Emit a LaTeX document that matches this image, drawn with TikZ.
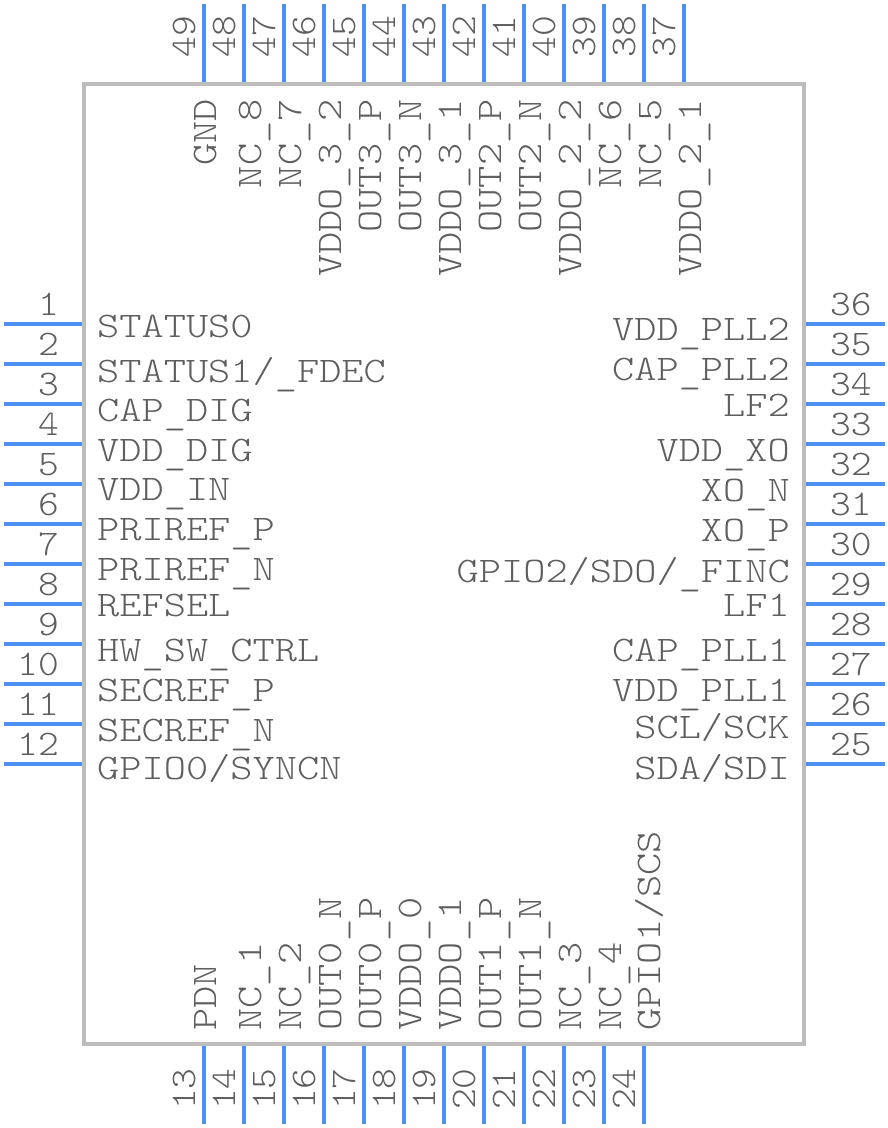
\documentclass[tikz,border=0pt]{standalone}
\usepackage{fontspec}
\newfontfamily\namefont[FakeStretch=1.175]{Latin Modern Mono Light}
\newfontfamily\numfont[FakeStretch=1.1]{Latin Modern Mono Light}
\newcommand{\lowbar}{\raisebox{-3.5pt}{\_}}
\definecolor{pinblue}{HTML}{4A90F5}
\definecolor{bodygray}{HTML}{BDBDBD}
\definecolor{textgray}{HTML}{5E5E5E}
\tikzset{
    pinline/.style={pinblue, line width=4pt},
    pinnum/.style={textgray, inner sep=0pt, font=\fontsize{36}{36}\numfont},
    pinname/.style={textgray, inner sep=0pt, font=\fontsize{36}{36}\namefont},
}
\begin{document}
\begin{tikzpicture}[x=1pt, y=-1pt]
    \useasboundingbox (0,0) rectangle (888,1128);

    % Body
    \draw[bodygray, line width=4pt] (84,84) rectangle (804,1044);

    % Left pins, top to bottom
    \foreach \pin in {1,...,12} {
        \pgfmathtruncatemacro{\pos}{324+40*(\pin-1)}
        \coordinate (pinA\pin) at (4,\pos);
        \coordinate (bodyA\pin) at (82,\pos);
        \draw[pinline] (pinA\pin) -- (bodyA\pin);
        \node[pinnum, anchor=base east] (numA\pin) at (59,\pos-9) {\pin};
    }

    % Right pins, bottom to top
    \foreach \pin in {25,...,36} {
        \pgfmathtruncatemacro{\pos}{764-40*(\pin-25)}
        \coordinate (pinC\pin) at (885,\pos);
        \coordinate (bodyC\pin) at (806,\pos);
        \draw[pinline] (pinC\pin) -- (bodyC\pin);
        \node[pinnum, anchor=base west] (numC\pin) at (830,\pos-9) {\pin};
    }

    % Bottom pins, left to right
    \foreach \pin in {13,...,24} {
        \pgfmathtruncatemacro{\pos}{204+40*(\pin-13)}
        \coordinate (pinB\pin) at (\pos,1124);
        \coordinate (bodyB\pin) at (\pos,1046);
        \draw[pinline] (pinB\pin) -- (bodyB\pin);
        \node[pinnum, rotate=90, anchor=base west] (numB\pin) at (\pos-9,1110) {\pin};
    }

    % Top pins, right to left
    \foreach \pin in {37,...,49} {
        \pgfmathtruncatemacro{\pos}{684-40*(\pin-37)}
        \coordinate (pinD\pin) at (\pos,4);
        \coordinate (bodyD\pin) at (\pos,82);
        \draw[pinline] (pinD\pin) -- (bodyD\pin);
        \node[pinnum, rotate=90, anchor=base east] (numD\pin) at (\pos-9,16) {\pin};
    }

    % Left names
    \foreach \name/\base [count=\i] in {STATUS0/337, {STATUS1/\lowbar FDEC}/382, CAP\lowbar DIG/421, VDD\lowbar DIG/461,
        VDD\lowbar IN/500, PRIREF\lowbar P/540, PRIREF\lowbar N/580, REFSEL/616, HW\lowbar SW\lowbar CTRL/661, SECREF\lowbar P/701,
        SECREF\lowbar N/741, {GPIO0/SYNCN}/779}
        \node[pinname, anchor=base west] (nameA\i) at (97,\base) {\name};

    % Right names
    \foreach \name/\base [count=\i] in {VDD\lowbar PLL2/340, CAP\lowbar PLL2/380, LF2/416, VDD\lowbar XO/461,
        XO\lowbar N/501, XO\lowbar P/541, {GPIO2/SDO/\lowbar FINC}/582, LF1/616, CAP\lowbar PLL1/661, VDD\lowbar PLL1/701,
        {SCL/SCK}/738, {SDA/SDI}/779}
        \node[pinname, anchor=base east] (nameC\i) at (790,\base) {\name};

    % Top names
    \foreach \name/\base [count=\i] in {GND/216, NC\lowbar 8/261, NC\lowbar 7/301, VDDO\lowbar 3\lowbar 2/341, OUT3\lowbar P/381,
        OUT3\lowbar N/421, VDDO\lowbar 3\lowbar 1/461, OUT2\lowbar P/501, OUT2\lowbar N/541, VDDO\lowbar 2\lowbar 2/581, NC\lowbar 6/621, NC\lowbar 5/661,
        VDDO\lowbar 2\lowbar 1/701}
        \node[pinname, rotate=90, anchor=base east] (nameD\i) at (\base,99) {\name};

    % Bottom names
    \foreach \name/\base [count=\i] in {PDN/216, NC\lowbar 1/261, NC\lowbar 2/301, OUT0\lowbar N/341, OUT0\lowbar P/381,
        VDDO\lowbar 0/421, VDDO\lowbar 1/461, OUT1\lowbar P/501, OUT1\lowbar N/541, NC\lowbar 3/581, NC\lowbar 4/621, {GPIO1/SCS}/660}
        \node[pinname, rotate=90, anchor=base west] (nameB\i) at (\base,1031) {\name};

\end{tikzpicture}
\end{document}
